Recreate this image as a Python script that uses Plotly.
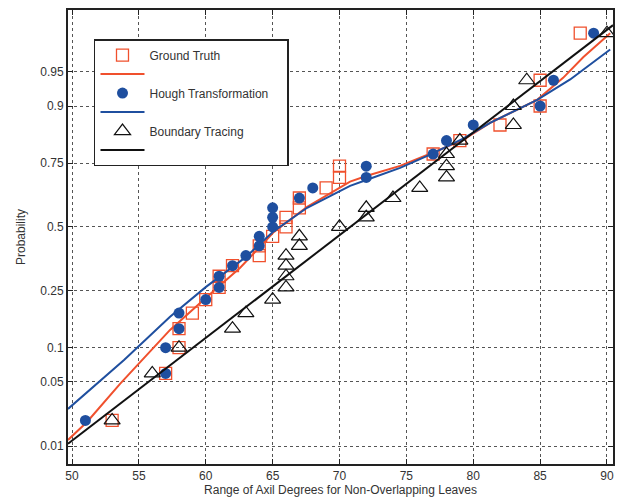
import plotly.graph_objects as go
from statistics import NormalDist

nd = NormalDist()

# Probability tick labels
prob_ticks = [0.01, 0.05, 0.1, 0.25, 0.5, 0.75, 0.9, 0.95]
prob_tick_text = ["0.01", "0.05", "0.1", "0.25", "0.5", "0.75", "0.9", "0.95"]
x_ticks = [50, 55, 60, 65, 70, 75, 80, 85, 90]

# Ground Truth (squares)
gt_x = [53, 57, 58, 58, 59, 60, 61, 61, 62, 64, 64, 65, 66, 66, 67, 67, 69, 70, 70, 77, 79, 82, 85, 85, 88]
gt_p = [0.02, 0.06, 0.10, 0.14, 0.18, 0.22, 0.26, 0.30, 0.34, 0.38, 0.42, 0.46, 0.50,
        0.54, 0.58, 0.62, 0.66, 0.70, 0.74, 0.78, 0.82, 0.86, 0.90, 0.94, 0.98]

# Hough Transformation (dots)
ht_x = [51, 57, 57, 58, 58, 60, 61, 61, 62, 63, 64, 64, 65, 65, 65, 67, 68, 72, 72, 77, 78, 80, 85, 86, 89]
ht_p = [0.02, 0.06, 0.10, 0.14, 0.18, 0.22, 0.26, 0.30, 0.34, 0.38, 0.42, 0.46, 0.50,
        0.54, 0.58, 0.62, 0.66, 0.70, 0.74, 0.78, 0.82, 0.86, 0.90, 0.94, 0.98]

# Boundary Tracing (triangles)
bt_x = [53, 56, 58, 62, 63, 65, 66, 66, 66, 66, 67, 67, 70, 72, 72, 74, 76, 78, 78, 78, 79, 83, 83, 84, 90]
bt_p = [0.02, 0.06, 0.10, 0.14, 0.18, 0.22, 0.26, 0.30, 0.34, 0.38, 0.42, 0.46, 0.50,
        0.54, 0.58, 0.62, 0.66, 0.70, 0.74, 0.78, 0.82, 0.86, 0.90, 0.94, 0.98]

# Fitted curves
gt_line_x = [49.70, 51.12, 53.59, 55.24, 57.33, 60.10, 62.57, 63.99, 65.03, 67.58, 70.79,
             72.06, 74.53, 76.78, 79.24, 81.26, 84.78, 86.72, 88.22, 90.24]
gt_line_p = [0.0119, 0.0192, 0.0478, 0.079, 0.137, 0.229, 0.332, 0.412, 0.475, 0.584, 0.684,
             0.706, 0.741, 0.781, 0.822, 0.865, 0.911, 0.943, 0.964, 0.980]

ht_line_x = [49.70, 53.89, 57.33, 60.02, 63.01, 65.03, 67.58, 70.79, 72.06, 74.53, 76.78,
             79.24, 81.26, 84.78, 87.25, 90.24]
ht_line_p = [0.0267, 0.079, 0.170, 0.262, 0.375, 0.479, 0.580, 0.668, 0.691, 0.734, 0.778,
             0.825, 0.865, 0.911, 0.941, 0.970]

bt_line_x = [49.70, 90.45]
bt_line_p = [0.0107, 0.9838]

RED = "#f0502d"
BLUE = "#1f4f9f"
BLACK = "#111111"

PAD = "\u00a0" * 4


def z(ps):
    return [nd.inv_cdf(p) for p in ps]


fig = go.Figure()

fig.add_trace(go.Scatter(x=gt_x, y=z(gt_p), mode="markers", name="Ground Truth",
                         marker=dict(symbol="square-open", size=12, color=RED, line=dict(width=1.3))))
fig.add_trace(go.Scatter(x=gt_line_x, y=z(gt_line_p), mode="lines", name=" ",
                         line=dict(color=RED, width=2)))
fig.add_trace(go.Scatter(x=ht_x, y=z(ht_p), mode="markers", name="Hough Transformation" + PAD,
                         marker=dict(symbol="circle", size=11, color=BLUE)))
fig.add_trace(go.Scatter(x=ht_line_x, y=z(ht_line_p), mode="lines", name=" ",
                         line=dict(color=BLUE, width=2)))
fig.add_trace(go.Scatter(x=bt_x, y=z(bt_p), mode="markers", name="Boundary Tracing",
                         marker=dict(symbol="triangle-up-open", size=14, color=BLACK, line=dict(width=1.2))))
fig.add_trace(go.Scatter(x=bt_line_x, y=z(bt_line_p), mode="lines", name=" ",
                         line=dict(color=BLACK, width=2)))

axis_common = dict(
    showline=True, linecolor="#222222", linewidth=2, mirror="ticks",
    showgrid=True, gridcolor="#555555", gridwidth=1, griddash="3px,3px",
    ticks="inside", ticklen=5, tickcolor="#222222",
    zeroline=False, automargin=False,
    tickfont=dict(family="Liberation Sans, Arial", size=12, color="#333333"),
)

fig.update_xaxes(range=[49.7, 90.45], tickvals=x_ticks, ticktext=[str(v) for v in x_ticks],
                 title=dict(text="Range of Axil Degrees for Non-Overlapping Leaves", standoff=6,
                            font=dict(family="Liberation Sans, Arial", size=12, color="#333333")),
                 **axis_common)
fig.update_yaxes(range=[-2.516, 2.30], tickvals=z(prob_ticks), ticktext=prob_tick_text,
                 title=dict(text="Probability", standoff=12,
                            font=dict(family="Liberation Sans, Arial", size=12, color="#333333")),
                 **axis_common)

fig.update_layout(
    width=619, height=497,
    margin=dict(l=68, r=6, t=10, b=33),
    plot_bgcolor="white", paper_bgcolor="white",
    font=dict(family="Liberation Sans, Arial", size=12, color="#333333"),
    legend=dict(x=0.0477, y=0.936, xanchor="left", yanchor="top",
                bgcolor="white", bordercolor="#222222", borderwidth=1.5,
                font=dict(family="Liberation Sans, Arial", size=12, color="#333333"),
                tracegroupgap=0, itemwidth=44),
    showlegend=True,
)

fig.write_html("out.html", config={"displayModeBar": False},
               post_script="document.body.style.margin='0';")
